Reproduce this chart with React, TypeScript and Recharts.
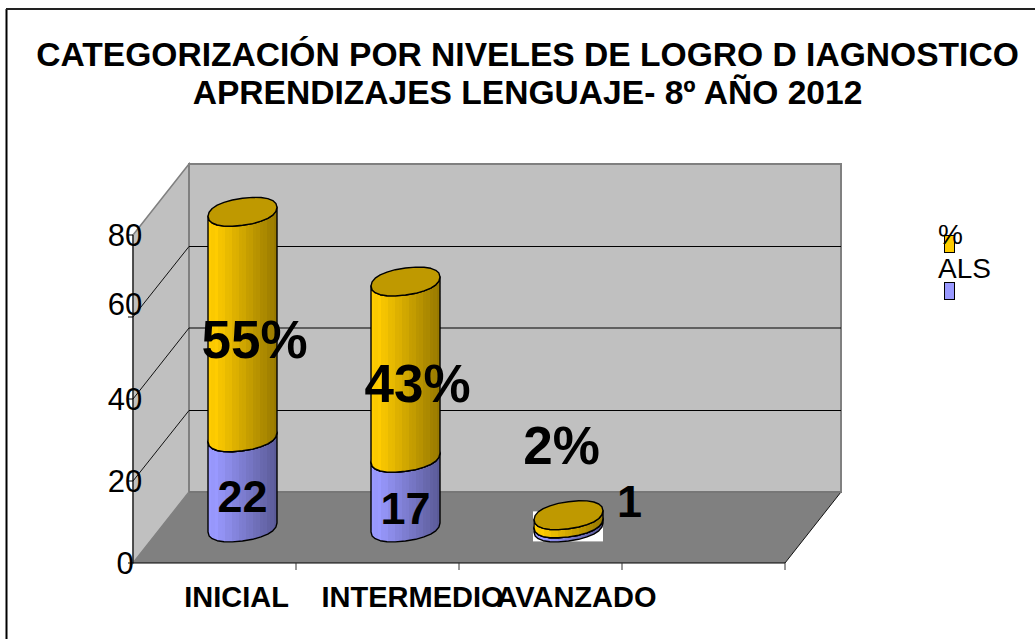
import React from 'react';
import { BarChart, Bar, XAxis, YAxis, Legend, LabelList } from 'recharts';

const categories = ['INICIAL', 'INTERMEDIO', 'AVANZADO', ''];
const alsValues = [22, 17, 1, null];
const pctValues = [55, 43, 2, null];
const pctLabels = ['55%', '43%', '2%', ''];
const yTicks = [0, 20, 40, 60, 80];
const titleLines = ['CATEGORIZACIÓN POR NIVELES DE LOGRO D IAGNOSTICO', 'APRENDIZAJES LENGUAJE- 8º AÑO 2012'];

const data = categories.map((name, i) => ({ name, ALS: alsValues[i], pct: pctValues[i], pctLabel: pctLabels[i] }));

const FONT = '"Liberation Sans", Arial, sans-serif';

// plot rectangle (front plane) and 3d depth of the box
const LEFT = 133;
const RIGHT = 785;
const TOP = 235;
const BOTTOM = 563;
const DX = 56;
const DY = -71;
const BAND = (RIGHT - LEFT) / categories.length;

// hand placed label offsets, the original puts them in odd places
const xLabelShift = [22, 35, 36, 0];
const pctNudge = [[12, 16], [12, 15], [-7, -73]];
const alsNudge = [[0, 15], [0, 16], [61, -23]];

const wallY = (v: number) => BOTTOM + DY - ((BOTTOM - TOP) * v) / 80;

const Walls = () => (
    <g>
        <line x1={6.5} y1={9} x2={6.5} y2={639} stroke="#000" strokeWidth={2} />
        <line x1={6} y1={9} x2={1035} y2={9} stroke="#222" strokeWidth={2} />
        {titleLines.map((t, i) => (
            <text key={i} x={527.5} y={66 + i * 38} textAnchor="middle" fontFamily={FONT} fontWeight="bold" fontSize={33.6} fill="#000">{t}</text>
        ))}
        <polygon points={`${LEFT},${TOP} ${LEFT + DX},${TOP + DY} ${LEFT + DX},${BOTTOM + DY} ${LEFT},${BOTTOM}`} fill="#c0c0c0" stroke="#808080" strokeWidth={1.5} />
        <rect x={LEFT + DX} y={TOP + DY} width={RIGHT - LEFT} height={BOTTOM - TOP} fill="#c0c0c0" stroke="#808080" strokeWidth={2} />
        <polygon points={`${LEFT},${BOTTOM} ${LEFT + DX},${BOTTOM + DY} ${RIGHT + DX},${BOTTOM + DY} ${RIGHT},${BOTTOM}`} fill="#808080" />
        <line x1={RIGHT} y1={BOTTOM} x2={RIGHT + DX} y2={BOTTOM + DY} stroke="#111" strokeWidth={1} />
        <line x1={LEFT + DX} y1={BOTTOM + DY} x2={RIGHT + DX} y2={BOTTOM + DY} stroke="#777" strokeWidth={2} />
        {yTicks.slice(1, 4).map((v, i) => {
            const y = wallY(v) + (i % 2 === 0 ? 0.5 : 0);
            return (
                <g key={v}>
                    <line x1={LEFT} y1={BOTTOM - ((BOTTOM - TOP) * v) / 80} x2={LEFT + DX} y2={y} stroke="#111" strokeWidth={1} />
                    <line x1={LEFT + DX} y1={y} x2={RIGHT + DX} y2={y} stroke="#000" strokeWidth={1} />
                </g>
            );
        })}
    </g>
);

const RX_TILT = 4.5;
const RY = 13.5;

// slightly squared off ellipse, the original caps are blunt at the ends
const blunt = (c: number) => Math.sign(c) * Math.pow(Math.abs(c), 0.9);

const ellipsePts = (cx: number, cy: number, rx: number, from: number, to: number, n: number) => {
    const pts: string[] = [];
    for (let i = 0; i <= n; i++) {
        const t = from + ((to - from) * i) / n;
        const c = blunt(Math.cos(t));
        pts.push(`${(cx + rx * c).toFixed(1)},${(cy + RY * blunt(Math.sin(t)) - RX_TILT * c).toFixed(1)}`);
    }
    return pts;
};

const Cylinder = (props: any) => {
    const { x, y, width, height, gradient, cap, patch } = props;
    if (!height) return null;
    const cx = x + width / 2 + DX / 2;
    const rx = width / 2;
    const top = y + DY / 2;
    const bot = top + height;
    const front = ellipsePts(cx, bot, rx, 0, Math.PI, 12); // right to left along the lower edge
    const upper = ellipsePts(cx, top, rx, Math.PI, 0, 12); // left to right along the upper edge
    const side = 'M' + front.concat(upper).join(' L') + ' Z';
    const whole = 'M' + ellipsePts(cx, top, rx, 0, Math.PI * 2, 24).join(' L') + ' Z';
    return (
        <g>
            {patch && height < 20 && <rect x={cx - rx - 1} y={top - 12} width={width + 1} height={30} fill="#fff" />}
            <path d={side} fill={`url(#${gradient})`} stroke="#000" strokeWidth={1.4} strokeLinejoin="round" />
            <path d={whole} fill={cap} stroke="#000" strokeWidth={1.4} strokeLinejoin="round" />
        </g>
    );
};

// vertical shading bands on the cylinder sides
const bandStops = (rgb: number[]) => {
    const n = 20;
    const stops: React.ReactElement[] = [];
    for (let i = 0; i < n; i++) {
        const shade = (i < 3 ? 1 : 1 - 0.4 * ((i - 2) / (n - 3))) * (i % 2 ? 0.985 : 1);
        const color = `rgb(${rgb.map((c) => Math.round(c * shade)).join(',')})`;
        stops.push(<stop key={`${i}a`} offset={i / n} stopColor={color} />);
        stops.push(<stop key={`${i}b`} offset={(i + 1) / n} stopColor={color} />);
    }
    return stops;
};

const makeLabel = (size: number, nudge: number[][], texts?: string[]) => (props: any) => {
    const { x, y, width, height, value, index } = props;
    if (value === null || value === undefined || !nudge[index]) return null;
    const cx = x + width / 2 + DX / 2 + nudge[index][0];
    const cy = y + height / 2 + DY / 2 + nudge[index][1];
    return (
        <text x={cx} y={cy + size * 0.33} textAnchor="middle" fontFamily={FONT} fontWeight="bold" fontSize={size} fill="#000">
            {texts ? texts[index] : value}
        </text>
    );
};

const YTick = (props: any) => {
    const { y, payload } = props;
    const lift = payload.value === 60 ? -13 : 0; // 60 sits higher than its tick in the original
    return <text x={125} y={y + 11 + lift} textAnchor="middle" fontFamily={FONT} fontSize={31} fill="#000">{payload.value}</text>;
};

const XTick = (props: any) => {
    const { x, y, payload, index } = props;
    return (
        <g>
            <line x1={x + BAND / 2} y1={BOTTOM} x2={x + BAND / 2} y2={BOTTOM + 7} stroke="#333" />
            <text x={x + (xLabelShift[index] ?? 0)} y={y + 36} textAnchor="middle" fontFamily={FONT} fontWeight="bold" fontSize={29} fill="#000">
                {payload.value}
            </text>
        </g>
    );
};

const LegendBox = (props: any) => {
    const items = props.payload || [];
    return (
        <div style={{ width: 70, height: 90, fontFamily: FONT, fontSize: 28, lineHeight: '30px', color: '#000', position: 'relative' }}>
            {items.map((it: any, i: number) => (
                <React.Fragment key={i}>
                    <div style={{ position: 'absolute', left: 6, top: 15 + i * 47, width: 9, height: 16, background: it.color, border: '1px solid #000' }} />
                    <span style={{ position: 'absolute', left: 0, top: i * 34 }}>{it.value}</span>
                </React.Fragment>
            ))}
        </div>
    );
};

export default function App() {
    return (
        <div style={{ position: 'absolute', left: 0, top: 0, width: 1035, height: 639, background: '#fff' }}>
            <BarChart
                width={1035}
                height={639}
                data={data}
                barSize={69}
                margin={{ top: TOP, right: 1035 - RIGHT, bottom: 639 - BOTTOM - 40, left: LEFT - 60 }}
            >
                <defs>
                    <linearGradient id="sideGold" x1="0" y1="0" x2="1" y2="0">{bandStops([255, 204, 0])}</linearGradient>
                    <linearGradient id="sideBlue" x1="0" y1="0" x2="1" y2="0">{bandStops([153, 153, 255])}</linearGradient>
                </defs>
                <Walls />
                <XAxis dataKey="name" height={40} tick={<XTick />} tickLine={false} axisLine={{ stroke: '#000' }} interval={0} />
                <YAxis width={60} domain={[0, 80]} ticks={yTicks} tick={<YTick />} tickSize={5} tickLine={{ stroke: '#000' }} axisLine={{ stroke: '#000' }} />
                <Legend
                    layout="horizontal"
                    verticalAlign="middle"
                    align="center"
                    wrapperStyle={{ left: 938, top: 220, width: 70 }}
                    content={<LegendBox />}
                />
                <Bar dataKey="ALS" name="ALS" stackId="a" fill="#9999ff" isAnimationActive={false}
                    shape={(p: any) => <Cylinder {...p} gradient="sideBlue" cap="#7a7acc" patch />}>
                    <LabelList dataKey="ALS" content={makeLabel(45, alsNudge)} />
                </Bar>
                <Bar dataKey="pct" name="%" stackId="a" fill="#ffcc00" isAnimationActive={false}
                    shape={(p: any) => <Cylinder {...p} gradient="sideGold" cap="#bf9900" />}>
                    <LabelList dataKey="pct" content={makeLabel(53, pctNudge, pctLabels)} />
                </Bar>
            </BarChart>
        </div>
    );
}
